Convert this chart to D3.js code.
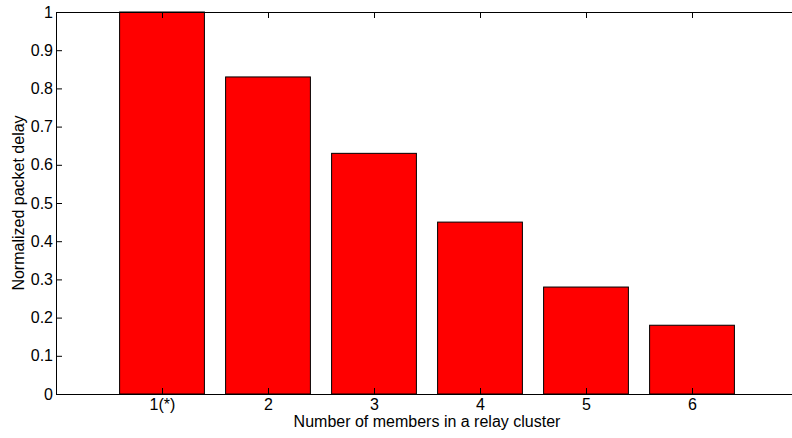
<!DOCTYPE html>
<html>
<head>
<meta charset="utf-8">
<script src="https://cdn.jsdelivr.net/npm/d3@7"></script>
<style>
  html, body { margin: 0; padding: 0; background: #fff; }
  svg { display: block; }
  text { font-family: "Liberation Sans", Arial, Helvetica, sans-serif; }
</style>
</head>
<body>
<div id="chart"></div>
<script>
// Normalized packet delay per relay-cluster size
const categories = ["1(*)", "2", "3", "4", "5", "6"];
const delays = [1.0, 0.83, 0.63, 0.45, 0.28, 0.18];
const yTicks = [0, 0.1, 0.2, 0.3, 0.4, 0.5, 0.6, 0.7, 0.8, 0.9, 1];
const xTitle = "Number of members in a relay cluster";
const yTitle = "Normalized packet delay";

const width = 792, height = 438;
const margin = { top: 12, right: -6, bottom: 44, left: 56 };
const innerW = width - margin.left - margin.right;
const innerH = height - margin.top - margin.bottom;

const svg = d3.select("#chart").append("svg")
  .attr("width", width)
  .attr("height", height);

const g = svg.append("g").attr("transform", `translate(${margin.left},${margin.top})`);

// Linear category positions: slots 0..7 with bars centred on 1..6
const x = d3.scaleLinear().domain([0, categories.length + 1]).range([0, innerW]);
const y = d3.scaleLinear().domain([0, 1]).range([innerH, 0]);
const step = x(1) - x(0);
const barW = step * 0.8;

// Bars
g.selectAll("rect.bar")
  .data(delays)
  .join("rect")
  .attr("class", "bar")
  .attr("x", (d, i) => x(i + 1) - barW / 2)
  .attr("y", d => y(d))
  .attr("width", barW)
  .attr("height", d => y(0) - y(d))
  .attr("fill", "#ff0000")
  .attr("stroke", "#000")
  .attr("stroke-width", 1);

const fontSize = 16;
const tickLen = 6;
const catTicks = categories.map((c, i) => i + 1);

// Bottom axis: ticks point inward
const xAxisBottom = d3.axisBottom(x)
  .tickValues(catTicks)
  .tickFormat((d) => categories[d - 1])
  .tickSizeInner(-tickLen)
  .tickSizeOuter(0)
  .tickPadding(tickLen - 1);
const gxb = g.append("g").attr("transform", `translate(0,${innerH})`).call(xAxisBottom);

// Top axis: ticks only
const xAxisTop = d3.axisTop(x)
  .tickValues(catTicks)
  .tickFormat("")
  .tickSizeInner(-tickLen)
  .tickSizeOuter(0);
const gxt = g.append("g").call(xAxisTop);

// Left axis
const yAxisLeft = d3.axisLeft(y)
  .tickValues(yTicks)
  .tickFormat(d => d === 0 ? "0" : d === 1 ? "1" : d3.format(".1f")(d))
  .tickSizeInner(-tickLen)
  .tickSizeOuter(0)
  .tickPadding(3);
const gyl = g.append("g").call(yAxisLeft);

// Right axis: ticks only
const yAxisRight = d3.axisRight(y)
  .tickValues(yTicks)
  .tickFormat("")
  .tickSizeInner(-tickLen)
  .tickSizeOuter(0);
const gyr = g.append("g").attr("transform", `translate(${innerW},0)`).call(yAxisRight);

[gxb, gxt, gyl, gyr].forEach(a => {
  a.selectAll(".domain").attr("stroke", "#000").attr("stroke-width", 1);
  a.selectAll(".tick line").attr("stroke", "#000").attr("stroke-width", 1);
  a.selectAll(".tick text")
    .attr("fill", "#000")
    .style("font-size", fontSize + "px")
    .style("font-family", "'Liberation Sans', Arial, sans-serif");
});

// Axis titles
svg.append("text")
  .attr("x", margin.left + innerW / 2)
  .attr("y", 427)
  .attr("text-anchor", "middle")
  .style("font-size", fontSize + "px")
  .attr("fill", "#000")
  .text(xTitle);

svg.append("text")
  .attr("transform", `translate(24,${margin.top + innerH / 2}) rotate(-90)`)
  .attr("text-anchor", "middle")
  .style("font-size", fontSize + "px")
  .attr("fill", "#000")
  .text(yTitle);
</script>
</body>
</html>
